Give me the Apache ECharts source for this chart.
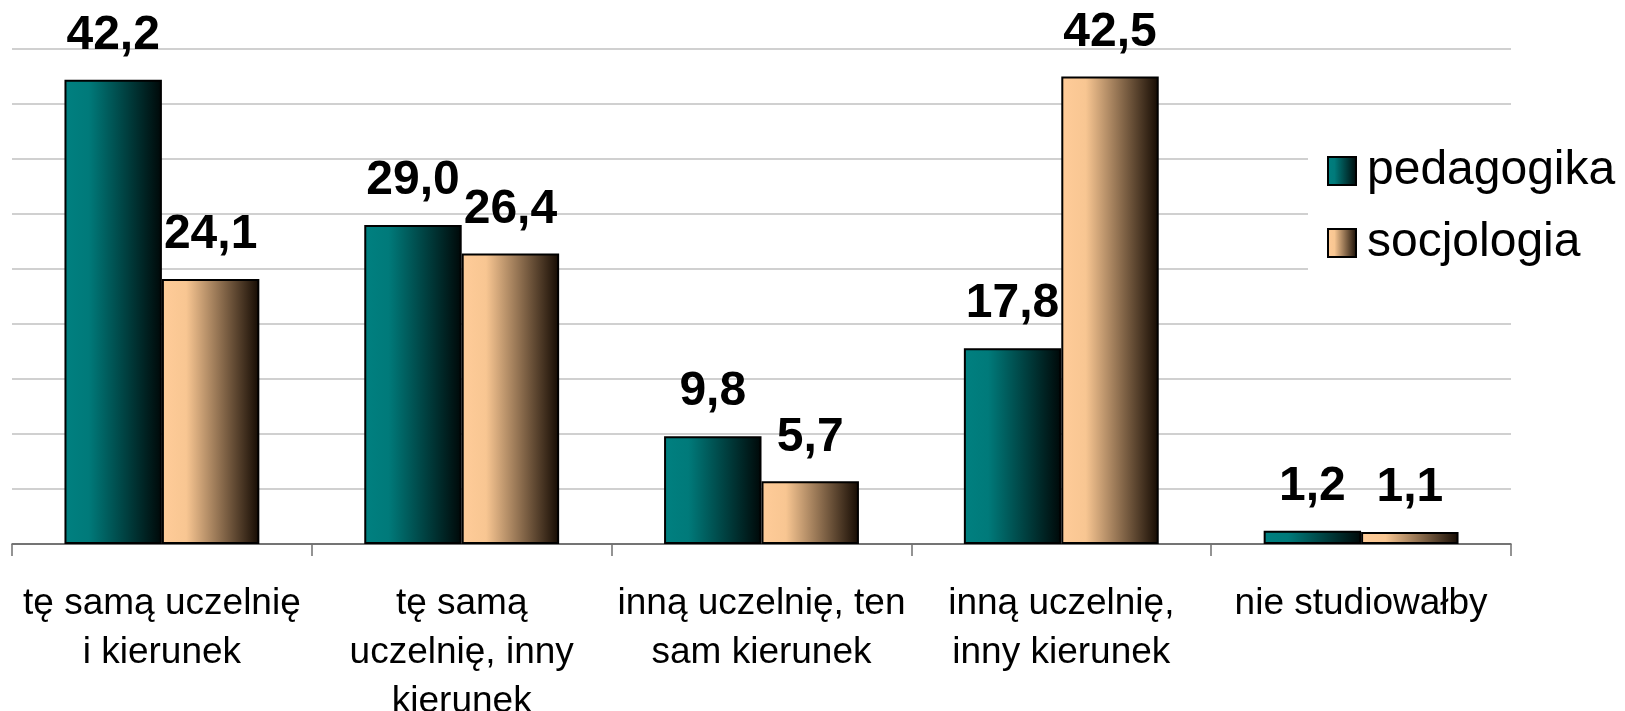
<!DOCTYPE html>
<html>
<head>
<meta charset="utf-8">
<script src="https://cdn.jsdelivr.net/npm/echarts@6/dist/echarts.min.js"></script>
<style>
  html, body { margin: 0; padding: 0; background: #fff; }
  #chart { width: 1625px; height: 711px; }
</style>
</head>
<body>
<div id="chart"></div>
<script>
var categories = ['tę samą uczelnię\ni kierunek', 'tę samą\nuczelnię, inny\nkierunek', 'inną uczelnię, ten\nsam kierunek', 'inną uczelnię,\ninny kierunek', 'nie studiowałby'];
var seriesNames = ['pedagogika', 'socjologia'];
var pedagogika = [42.2, 29.0, 9.8, 17.8, 1.2];
var socjologia = [24.1, 26.4, 5.7, 42.5, 1.1];

var chart = echarts.init(document.getElementById('chart'));

function grad(stops) {
    return new echarts.graphic.LinearGradient(0, 0, 1, 0, stops);
}
var tealGrad = grad([
    { offset: 0, color: '#008080' },
    { offset: 0.25, color: '#007a7a' },
    { offset: 1, color: '#000808' }
]);
var peachGrad = grad([
    { offset: 0, color: '#ffcc99' },
    { offset: 0.25, color: '#f8c692' },
    { offset: 1, color: '#140a02' }
]);

var labelStyle = {
    show: true,
    position: 'top',
    distance: 20,
    color: '#000',
    fontFamily: 'Liberation Sans',
    fontWeight: 'bold',
    fontSize: 48,
    formatter: function (p) { return p.value.toFixed(1).replace('.', ','); }
};

var option = {
    animation: false,
    grid: { left: 12, right: 114, top: 49, bottom: 167, outerBoundsMode: 'none' },
    legend: {
        orient: 'vertical',
        left: 1308,
        top: 111,
        padding: [36, 20, 36, 19],
        backgroundColor: '#fff',
        icon: 'rect',
        itemWidth: 28,
        itemHeight: 28,
        itemGap: 24,
        textStyle: { fontFamily: 'Liberation Sans', fontSize: 48, lineHeight: 48, color: '#000', padding: [0, 0, 0, 6] },
        data: seriesNames
    },
    xAxis: {
        type: 'category',
        data: categories,
        axisLine: { lineStyle: { color: '#555', width: 1.5 } },
        axisTick: { show: true, length: 12, lineStyle: { color: '#707070', width: 1.5 } },
        axisLabel: {
            interval: 0,
            margin: 35,
            color: '#000',
            fontFamily: 'Liberation Sans',
            fontSize: 37,
            lineHeight: 49
        }
    },
    yAxis: {
        type: 'value',
        min: 0,
        max: 45,
        interval: 5,
        axisLabel: { show: false },
        axisLine: { show: false },
        axisTick: { show: false },
        splitLine: { lineStyle: { color: '#c0c0c0', width: 1.5 } }
    },
    series: [{
        name: seriesNames[0],
        type: 'bar',
        data: pedagogika,
        barGap: '0%',
        barCategoryGap: '35%',
        itemStyle: { color: tealGrad, borderColor: '#000', borderWidth: 2 },
        label: labelStyle
    }, {
        name: seriesNames[1],
        type: 'bar',
        data: socjologia,
        barGap: '0%',
        barCategoryGap: '35%',
        itemStyle: { color: peachGrad, borderColor: '#000', borderWidth: 2 },
        label: labelStyle
    }]
};

chart.setOption(option);
</script>
</body>
</html>
